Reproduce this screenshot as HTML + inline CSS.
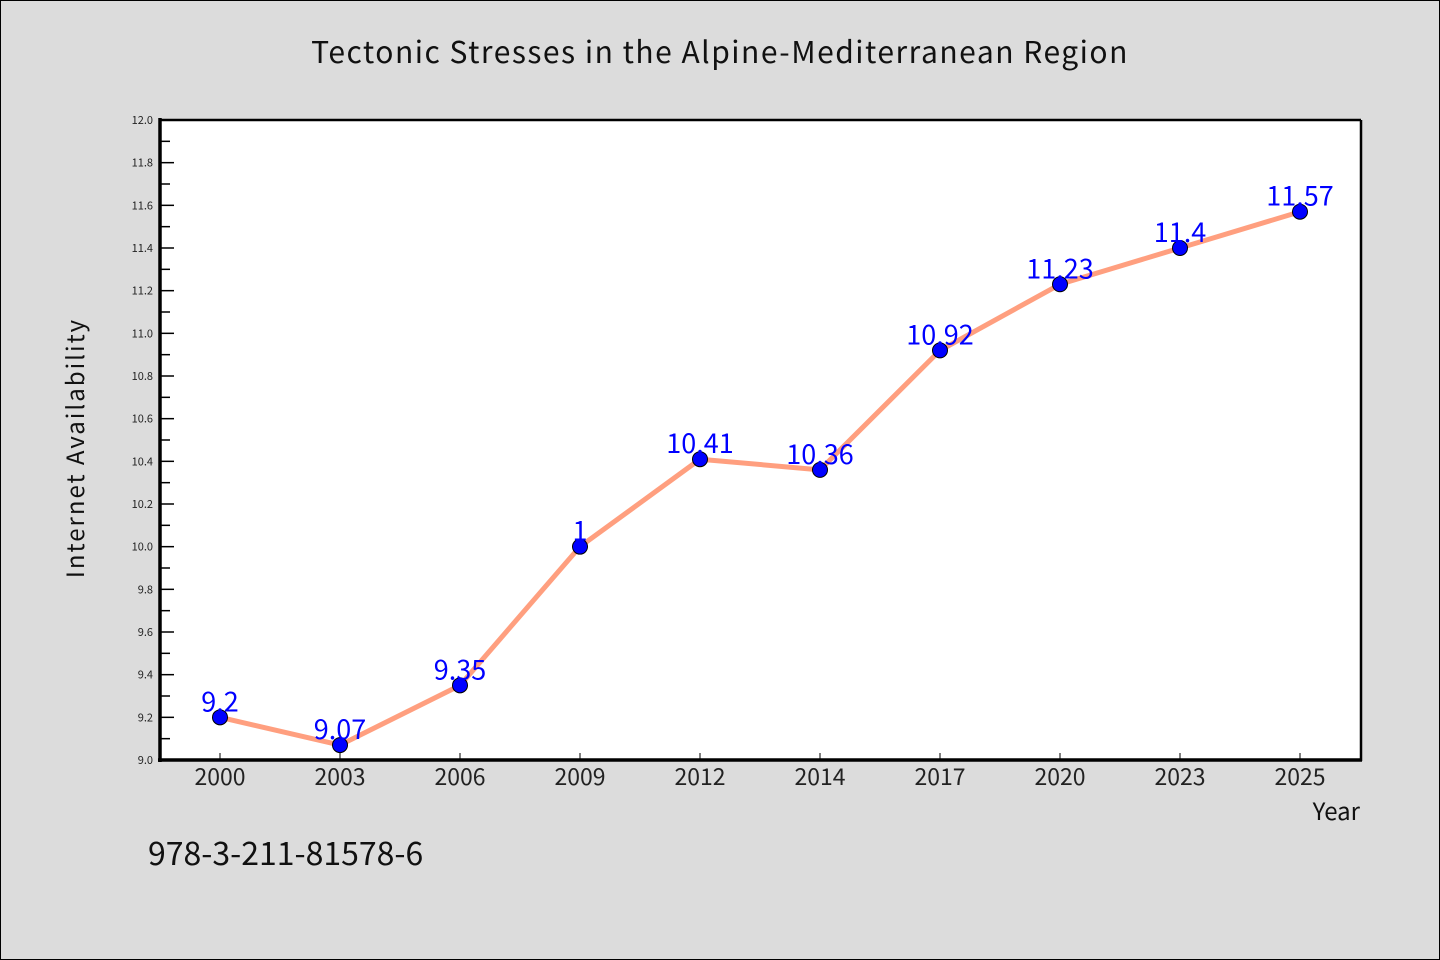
<!DOCTYPE html>
<html><head><meta charset="utf-8"><style>
html,body{margin:0;background:#dcdcdc;overflow:hidden;}
svg{display:block;}
svg text{font-family:"WenQuanYi Zen Hei Mono","WenQuanYi Zen Hei","Noto Sans CJK SC","Liberation Sans",sans-serif;}
</style></head><body>
<svg width="1440" height="960" viewBox="0 0 1440 960" xmlns="http://www.w3.org/2000/svg">
<rect x="0.5" y="0.5" width="1439" height="959" fill="#dcdcdc" stroke="#000" stroke-width="1"/>
<text x="720" y="63" font-size="30" text-anchor="middle" fill="#111" letter-spacing="1.5">Tectonic Stresses in the Alpine-Mediterranean Region</text>
<rect x="160" y="120" width="1201" height="640" fill="#fff"/>
<g id="ticks"></g>
<g id="series"></g>
<line x1="160" y1="120" x2="1361" y2="120" stroke="#000" stroke-width="2.5"/>
<line x1="1361" y1="120" x2="1361" y2="761" stroke="#000" stroke-width="2.5"/>
<line x1="160" y1="118" x2="160" y2="762" stroke="#000" stroke-width="3.5"/>
<line x1="158" y1="760" x2="1362" y2="760" stroke="#000" stroke-width="3.5"/>
<text transform="translate(84,448) rotate(-90)" font-size="24" text-anchor="middle" fill="#111" letter-spacing="2">Internet Availability</text>
<text x="1360" y="820" font-size="24" text-anchor="end" fill="#111">Year</text>
<text x="148" y="865" font-size="32" fill="#111">978-3-211-81578-6</text>
</svg>
<script>
const categories=["2000","2003","2006","2009","2012","2014","2017","2020","2023","2025"];
const values=[9.2,9.07,9.35,10.0,10.41,10.36,10.92,11.23,11.4,11.57];
const labels=["9.2","9.07","9.35","1","10.41","10.36","10.92","11.23","11.4","11.57"];
const yTicks=["9.0","9.2","9.4","9.6","9.8","10.0","10.2","10.4","10.6","10.8","11.0","11.2","11.4","11.6","11.8","12.0"];
const NS="http://www.w3.org/2000/svg";
const yMin=9,yMax=12,plotTop=120,plotBot=760;
function y(v){return plotBot-(v-yMin)/(yMax-yMin)*(plotBot-plotTop);}
function x(i){return 220+i*120;}
function mk(t,a,p){const e=document.createElementNS(NS,t);for(const k in a)e.setAttribute(k,a[k]);p.appendChild(e);return e;}
const tk=document.getElementById('ticks');
yTicks.forEach((t,i)=>{const v=parseFloat(t);
 const l=mk('line',{x1:160,x2:174,y1:y(v),y2:y(v),stroke:'#000','stroke-width':1.5},tk);
 
 
 if(i<yTicks.length-1){const m=mk('line',{x1:160,x2:170,y1:y(v+0.1),y2:y(v+0.1),stroke:'#000','stroke-width':1.5},tk);
 
 }
 const tx=mk('text',{x:153,y:y(v)+4,'font-size':11,'text-anchor':'end',fill:'#222'},tk);tx.textContent=t;
 
 
});
categories.forEach((c,i)=>{
 const l=mk('line',{x1:x(i),x2:x(i),y1:753,y2:760,stroke:'#000','stroke-width':1},tk);
 
 
 const tx=mk('text',{x:x(i),y:785,'font-size':23,'text-anchor':'middle',fill:'#222'},tk);tx.textContent=c;
 
 
});
const s=document.getElementById('series');
const pl=mk('polyline',{points:values.map((v,i)=>x(i)+','+y(v)).join(' '),fill:'none',stroke:'#ff9f7f','stroke-width':5,'stroke-linejoin':'round'},s);


values.forEach((v,i)=>{
 const c=mk('circle',{cx:x(i),cy:y(v),r:7.5,fill:'#0000ff',stroke:'#000','stroke-width':1},s);
 
 
 const t=mk('text',{x:x(i),y:y(v)-6,'font-size':27,'text-anchor':'middle',fill:'#0000ff'},s);t.textContent=labels[i];
 
 
});
</script>
</body></html>
